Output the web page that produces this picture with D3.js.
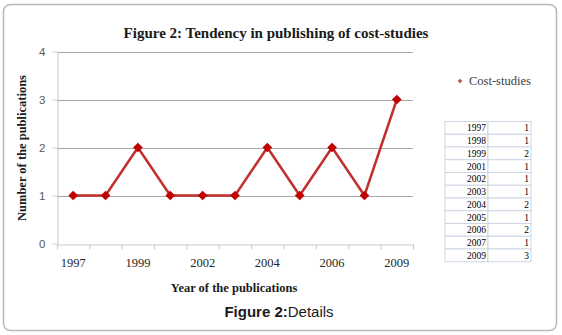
<!DOCTYPE html>
<html><head><meta charset="utf-8">
<script src="https://cdn.jsdelivr.net/npm/d3@7"></script>
<style>body{margin:0;background:#fff}svg{display:block}</style>
</head><body>
<svg id="c" width="562" height="335"></svg>
<script>
const years = ["1997","1998","1999","2001","2002","2003","2004","2005","2006","2007","2009"];
const counts = [1,1,2,1,1,1,2,1,2,1,3];
const xLabelYears = ["1997","1999","2002","2004","2006","2009"];
const yTicks = [0,1,2,3,4];
const seriesName = "Cost-studies";
const title = "Figure 2: Tendency in publishing of cost-studies";
const yTitle = "Number of the publications";
const xTitle = "Year of the publications";

const svg = d3.select("#c");
const serif = "'Liberation Serif','Times New Roman',serif";
const L = 57, R = 413, T = 51.5, B = 243.5;

// frame
svg.append("rect").attr("x",3.5).attr("y",4.5).attr("width",553).attr("height",326)
  .attr("rx",7).attr("fill","#fff").attr("stroke","#b8b8b8").attr("stroke-width",1.5);

const x = d3.scaleBand().domain(years).range([L,R]).padding(0);
const xb = d3.scaleLinear().domain([0,years.length]).range([L,R]);
const y = d3.scaleLinear().domain([0,4]).range([B,T]);

// gridlines
svg.append("g").selectAll("line").data(yTicks.filter(d=>d>0)).join("line")
  .attr("x1",L).attr("x2",R).attr("y1",d=>Math.round(y(d))+0.5).attr("y2",d=>Math.round(y(d))+0.5)
  .attr("stroke","#a6a6a6").attr("stroke-width",1);

// y axis
const ya = svg.append("g").attr("transform",`translate(${L+0.5},0)`)
  .call(d3.axisLeft(y).tickValues(yTicks).tickFormat(d3.format("d")).tickSize(5).tickPadding(7).tickSizeOuter(0));
ya.select(".domain").attr("stroke","#c8c8c8");
ya.selectAll(".tick line").attr("stroke","#c8c8c8");
ya.selectAll("text").attr("font-family","'Liberation Sans',Arial,sans-serif").attr("font-size",11.5).attr("fill","#595959");

// x axis ticks at category boundaries
const xa = svg.append("g").attr("transform",`translate(0,${Math.round(B)+0.5})`)
  .call(d3.axisBottom(xb).tickValues(d3.range(years.length+1)).tickFormat("").tickSize(5).tickSizeOuter(0));
xa.select(".domain").attr("stroke","#c8c8c8");
xa.selectAll(".tick line").attr("stroke","#c8c8c8");
// x labels
const xl = svg.append("g").attr("transform",`translate(0,${B})`)
  .call(d3.axisBottom(x).tickValues(xLabelYears).tickSize(0).tickPadding(15));
xl.select(".domain").remove();
xl.selectAll("text").attr("font-family",serif).attr("font-size",12.5).attr("fill","#262626");

// line
const line = d3.line().x((d,i)=>x(years[i])+x.bandwidth()/2).y(d=>y(d));
svg.append("path").datum(counts).attr("d",line).attr("fill","none")
  .attr("stroke","#c0302e").attr("stroke-width",2.5).attr("stroke-linejoin","round");
const diamond = d3.symbol().type(d3.symbolDiamond2).size(60);
svg.append("g").selectAll("path").data(counts).join("path")
  .attr("d",diamond)
  .attr("transform",(d,i)=>`translate(${x(years[i])+x.bandwidth()/2},${y(d)})`)
  .attr("fill","#c00000");

// title
svg.append("text").attr("x",276).attr("y",38).attr("text-anchor","middle")
  .attr("font-family",serif).attr("font-weight","bold").attr("font-size",15).attr("fill","#1a1a1a").text(title);
svg.append("text").attr("transform","translate(26,148) rotate(-90)").attr("text-anchor","middle")
  .attr("font-family",serif).attr("font-weight","bold").attr("font-size",12.5).attr("fill","#1a1a1a").text(yTitle);
svg.append("text").attr("x",234).attr("y",292).attr("text-anchor","middle")
  .attr("font-family",serif).attr("font-weight","bold").attr("font-size",12.5).attr("fill","#1a1a1a").text(xTitle);

// legend
svg.append("path").attr("d",d3.symbol().type(d3.symbolDiamond2).size(14))
  .attr("transform","translate(460,81)").attr("fill","#c0504d");
svg.append("text").attr("x",469).attr("y",85).attr("font-family",serif).attr("font-size",12.5)
  .attr("fill","#404040").text(seriesName);

// table
const tx0 = 445, tx1 = 488, tx2 = 531, ty0 = 121.5, rowH = 12.75;
const tg = svg.append("g");
tg.selectAll("rect.row").data(years).join("rect")
  .attr("x",tx0).attr("y",(d,i)=>ty0+i*rowH).attr("width",tx1-tx0).attr("height",rowH)
  .attr("fill","#fff").attr("stroke","#cdd5e3").attr("stroke-width",1);
tg.selectAll("rect.row2").data(years).join("rect")
  .attr("x",tx1).attr("y",(d,i)=>ty0+i*rowH).attr("width",tx2-tx1).attr("height",rowH)
  .attr("fill","#fff").attr("stroke","#cdd5e3").attr("stroke-width",1);
tg.selectAll("text.yr").data(years).join("text")
  .attr("x",tx1-2).attr("y",(d,i)=>ty0+i*rowH+rowH-3).attr("text-anchor","end")
  .attr("font-family",serif).attr("font-size",9.5).attr("fill","#000").text(d=>d);
tg.selectAll("text.val").data(counts).join("text")
  .attr("x",tx2-2).attr("y",(d,i)=>ty0+i*rowH+rowH-3).attr("text-anchor","end")
  .attr("font-family",serif).attr("font-size",9.5).attr("fill","#000").text(d=>d);

// caption
const cap = svg.append("text").attr("x",279).attr("y",317).attr("text-anchor","middle")
  .attr("font-family","'Liberation Sans',Arial,sans-serif").attr("font-size",15).attr("fill","#1a1a1a");
cap.append("tspan").attr("font-weight","bold").text("Figure 2:");
cap.append("tspan").text("Details");
</script>
</body></html>
